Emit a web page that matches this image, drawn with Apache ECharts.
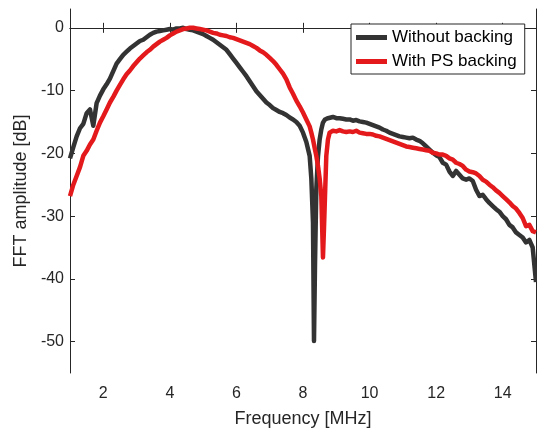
<!DOCTYPE html>
<html>
<head>
<meta charset="utf-8">
<script src="https://cdn.jsdelivr.net/npm/echarts@6/dist/echarts.min.js"></script>
<style>
	html, body { margin: 0; padding: 0; background: #fff; }
	#chart { width: 537px; height: 429px; }
</style>
</head>
<body>
<div id="chart"></div>
<script>
// frequency grid [MHz], denser around the notches
var freq = [
	1.0, 1.1, 1.2, 1.3, 1.4, 1.5, 1.6, 1.7, 1.8, 1.9,
	2.0, 2.1, 2.2, 2.3, 2.4, 2.5, 2.6, 2.7, 2.8, 2.9,
	3.0, 3.1, 3.2, 3.3, 3.4, 3.5, 3.6, 3.7, 3.8, 3.9,
	4.0, 4.1, 4.2, 4.3, 4.4, 4.5, 4.6, 4.7, 4.8, 4.9,
	5.0, 5.1, 5.2, 5.3, 5.4, 5.5, 5.6, 5.7, 5.8, 5.9,
	6.0, 6.1, 6.2, 6.3, 6.4, 6.5, 6.6, 6.7, 6.8, 6.9,
	7.0, 7.1, 7.2, 7.3, 7.4, 7.5, 7.6, 7.7, 7.8, 7.9,
	8.0, 8.1, 8.2, 8.25, 8.3, 8.33, 8.36, 8.4, 8.45, 8.5,
	8.55, 8.6, 8.63, 8.66, 8.7, 8.75, 8.8, 8.9,
	9.0, 9.1, 9.2, 9.3, 9.4, 9.5, 9.6, 9.7, 9.8, 9.9,
	10.0, 10.1, 10.2, 10.3, 10.4, 10.5, 10.6, 10.7, 10.8, 10.9,
	11.0, 11.1, 11.2, 11.3, 11.4, 11.5, 11.6, 11.7, 11.8, 11.9,
	12.0, 12.1, 12.2, 12.3, 12.4, 12.5, 12.6, 12.7, 12.8, 12.9,
	13.0, 13.1, 13.2, 13.3, 13.4, 13.5, 13.6, 13.7, 13.8, 13.9,
	14.0, 14.1, 14.2, 14.3, 14.4, 14.5, 14.6, 14.7, 14.8, 14.9,
	15.0
];

// without backing [dB]
var withoutBacking = [
	-20.8, -19.0, -17.3, -16.0, -15.3, -13.6, -13.0, -15.6, -12.0, -10.8,
	-9.8, -9.0, -8.1, -6.9, -5.7, -5.0, -4.3, -3.8, -3.3, -2.9,
	-2.5, -2.1, -1.9, -1.5, -1.1, -0.8, -0.6, -0.5, -0.4, -0.3,
	-0.2, -0.3, -0.1, -0.1, 0, -0.2, -0.3, -0.4, -0.6, -0.8,
	-1.0, -1.3, -1.6, -1.9, -2.3, -2.7, -3.1, -3.5, -4.2, -4.9,
	-5.6, -6.3, -7.0, -7.7, -8.5, -9.3, -10.1, -10.7, -11.3, -11.9,
	-12.3, -12.8, -13.1, -13.4, -13.6, -13.9, -14.3, -14.6, -15.0, -15.6,
	-16.7, -18.2, -20.4, -24.0, -31.0, -49.9, -38.0, -25.7, -20.5, -17.8,
	-16.2, -15.1, -14.8, -14.6, -14.5, -14.4, -14.3, -14.2,
	-14.4, -14.4, -14.5, -14.6, -14.6, -14.8, -14.7, -14.9, -15.0, -15.1,
	-15.3, -15.5, -15.7, -15.9, -16.2, -16.4, -16.7, -16.9, -17.1, -17.3,
	-17.4, -17.5, -17.6, -17.5, -17.8, -18.0, -18.4, -18.9, -19.4, -19.9,
	-20.3, -20.6, -21.5, -21.8, -22.9, -23.6, -22.8, -23.4, -24.0, -24.2,
	-24.0, -24.4, -25.8, -26.8, -26.6, -27.3, -27.9, -28.4, -28.9, -29.3,
	-30.0, -30.5, -31.4, -31.8, -32.6, -33.0, -33.4, -34.2, -33.8, -35.0,
	-40.5
];

// with PS backing [dB]
var withPS = [
	-26.8, -25.0, -23.6, -22.2, -20.4, -19.6, -18.6, -17.8, -16.4, -15.1,
	-14.1, -13.0, -11.9, -11.0, -10.0, -9.1, -8.2, -7.4, -6.8, -6.1,
	-5.5, -4.9, -4.4, -3.9, -3.5, -3.0, -2.6, -2.2, -1.9, -1.6,
	-1.2, -0.9, -0.6, -0.4, -0.2, -0.1, 0, 0, -0.1, -0.2,
	-0.3, -0.4, -0.6, -0.8, -0.9, -1.1, -1.2, -1.3, -1.5, -1.6,
	-1.8, -2.0, -2.2, -2.4, -2.6, -2.9, -3.2, -3.6, -3.9, -4.3,
	-4.8, -5.3, -5.9, -6.6, -7.3, -8.2, -9.5, -10.5, -11.6, -12.5,
	-13.5, -14.6, -15.7, -16.7, -17.8, -18.6, -19.4, -20.4, -22.0, -24.0,
	-26.8, -36.6, -32.0, -27.0, -20.4, -17.8, -16.7, -16.4,
	-16.5, -16.3, -16.5, -16.6, -16.5, -16.6, -16.4, -16.7, -16.8, -16.9,
	-16.9, -17.0, -17.2, -17.3, -17.5, -17.7, -17.9, -18.1, -18.3, -18.5,
	-18.7, -18.9, -19.0, -19.1, -19.2, -19.3, -19.4, -19.5, -19.6, -19.9,
	-20.0, -20.2, -20.2, -20.4, -20.8, -21.0, -21.5, -21.7, -22.0, -22.6,
	-22.9, -23.0, -23.2, -23.6, -24.2, -24.5, -25.0, -25.4, -25.9, -26.3,
	-26.8, -27.3, -27.8, -28.4, -28.8, -29.5, -30.3, -31.6, -31.4, -32.4,
	-32.6
];

var xTicks = [2, 4, 6, 8, 10, 12, 14];
var yTicks = [-50, -40, -30, -20, -10, 0];

var font = '"Liberation Sans", Arial, sans-serif';
var axisColor = '#262626';

function pairs(xs, ys) {
	return xs.map(function (x, i) { return [x, ys[i]]; });
}

var chart = echarts.init(document.getElementById('chart'));

var frame = {
	show: true,
	lineStyle: { color: axisColor, width: 1 }
};

chart.setOption({
	animation: false,
	grid: { left: 70, right: 1, top: 9, bottom: 56, outerBoundsMode: 'none' },
	legend: {
		orient: 'vertical',
		left: 351,
		top: 24,
		align: 'left',
		padding: [5, 8, 4, 5],
		itemGap: 7,
		itemWidth: 31,
		itemHeight: 5,
		icon: 'rect',
		backgroundColor: '#fff',
		borderColor: axisColor,
		borderWidth: 1,
		textStyle: { fontFamily: font, fontSize: 17, color: '#000' },
		data: ['Without backing', 'With PS backing']
	},
	xAxis: [
		{
			type: 'value', min: 1, max: 15,
			name: 'Frequency [MHz]', nameLocation: 'middle', nameGap: 37,
			nameTextStyle: { fontFamily: font, fontSize: 18, color: axisColor },
			axisLine: frame,
			axisTick: { inside: true, length: 5, customValues: xTicks, lineStyle: { color: axisColor } },
			axisLabel: { customValues: xTicks, margin: 13, fontFamily: font, fontSize: 16, color: axisColor },
			splitLine: { show: false }
		},
		{
			type: 'value', min: 1, max: 15, position: 'top',
			axisLine: frame,
			axisTick: { inside: true, length: 5, customValues: xTicks, lineStyle: { color: axisColor } },
			axisLabel: { show: false, customValues: xTicks },
			splitLine: { show: false }
		}
	],
	yAxis: [
		{
			type: 'value', min: -55, max: 3,
			name: 'FFT amplitude [dB]', nameLocation: 'middle', nameGap: 32,
			nameTextStyle: { fontFamily: font, fontSize: 18, color: axisColor },
			axisLine: frame,
			axisTick: { inside: true, length: 5, customValues: yTicks, lineStyle: { color: axisColor } },
			axisLabel: { customValues: yTicks, margin: 6, fontFamily: font, fontSize: 16, color: axisColor },
			splitLine: { show: false }
		},
		{
			type: 'value', min: -55, max: 3, position: 'right',
			axisLine: frame,
			axisTick: { inside: true, length: 5, customValues: yTicks, lineStyle: { color: axisColor } },
			axisLabel: { show: false, customValues: yTicks },
			splitLine: { show: false }
		}
	],
	series: [
		{
			name: 'Without backing',
			type: 'line',
			data: pairs(freq, withoutBacking),
			showSymbol: false,
			symbol: 'none',
			itemStyle: { color: '#333333' },
			lineStyle: { color: '#333333', width: 4.5, join: 'round' }
		},
		{
			name: 'With PS backing',
			type: 'line',
			data: pairs(freq, withPS),
			showSymbol: false,
			symbol: 'none',
			itemStyle: { color: '#e3191c' },
			lineStyle: { color: '#e3191c', width: 4.5, join: 'round' }
		}
	]
});
</script>
</body>
</html>
